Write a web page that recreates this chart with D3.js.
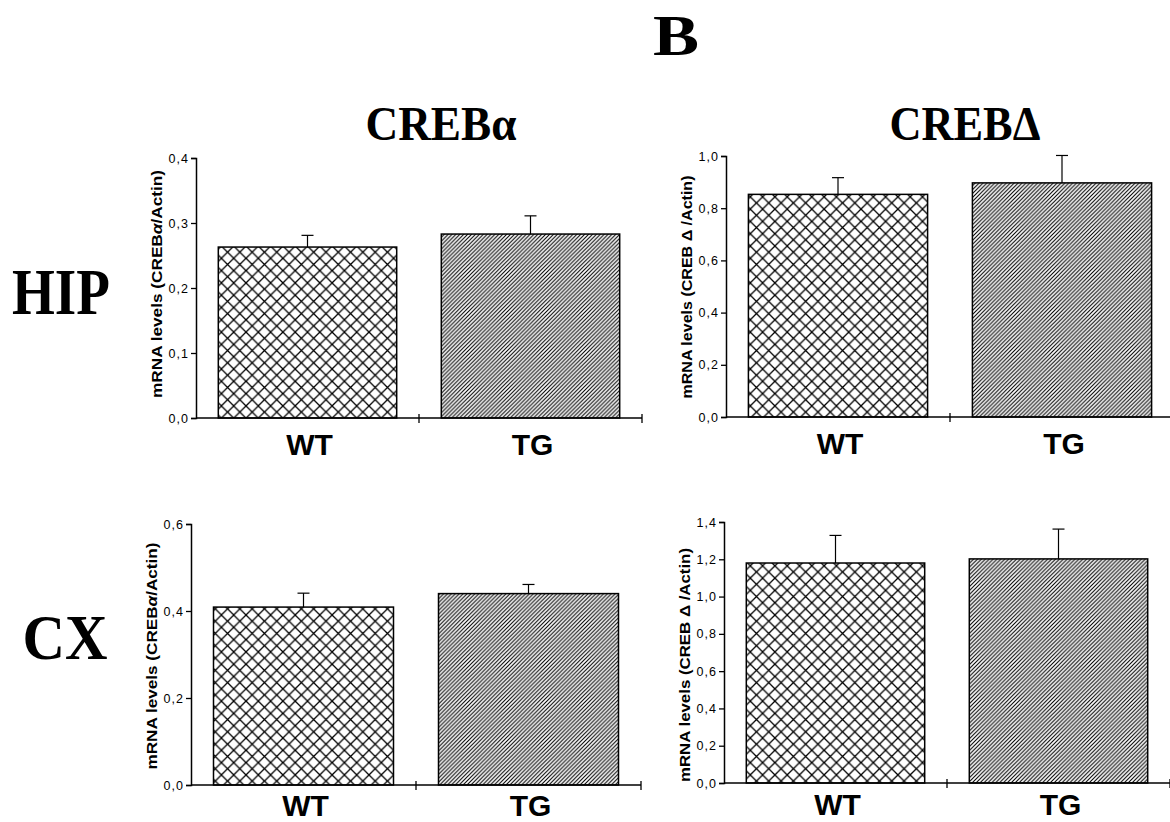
<!DOCTYPE html>
<html>
<head>
<meta charset="utf-8">
<script src="https://cdn.jsdelivr.net/npm/d3@7"></script>
<style>
  body { margin: 0; background: #fff; }
  text { fill: #000; }
</style>
</head>
<body>
<div id="chart"></div>
<script>

// data (means and upper SEM)
var groups = ["WT", "TG"]

var hipAlphaMean = [0.263, 0.283]
var hipAlphaErr = [0.018, 0.028]
var hipAlphaTicks = [0, 0.1, 0.2, 0.3, 0.4]

var hipDeltaMean = [0.853, 0.897]
var hipDeltaErr = [0.064, 0.105]
var hipDeltaTicks = [0, 0.2, 0.4, 0.6, 0.8, 1.0]

var cxAlphaMean = [0.409, 0.440]
var cxAlphaErr = [0.032, 0.021]
var cxAlphaTicks = [0, 0.2, 0.4, 0.6]

var cxDeltaMean = [1.18, 1.202]
var cxDeltaErr = [0.148, 0.16]
var cxDeltaTicks = [0, 0.2, 0.4, 0.6, 0.8, 1.0, 1.2, 1.4]

var width = 1170
var height = 822

var svg = d3.select("#chart")
  .append("svg")
    .attr("width", width)
    .attr("height", height)

// hatch patterns
var defs = svg.append("defs")

defs.append("pattern")
    .attr("id", "cross")
    .attr("patternUnits", "userSpaceOnUse")
    .attr("width", 12.3)
    .attr("height", 12.3)
  .append("path")
    .attr("d", "M0,0 L12.3,12.3 M12.3,0 L0,12.3 M-1,1 L1,-1 M11.3,13.3 L13.3,11.3")
    .attr("stroke", "#000")
    .attr("stroke-width", 1.3)

defs.append("pattern")
    .attr("id", "diag")
    .attr("patternUnits", "userSpaceOnUse")
    .attr("width", 3.9)
    .attr("height", 3.9)
  .append("path")
    .attr("d", "M-1,1 L1,-1 M0,3.9 L3.9,0 M2.9,4.9 L4.9,2.9")
    .attr("stroke", "#000")
    .attr("stroke-width", 1.1)

var fills = ["url(#cross)", "url(#diag)"]

// comma decimals like the original
var fmt = function(d) { return d3.format(".1f")(d).replace(".", ",") }

// one panel per call
function drawPanel(p) {
  var x = d3.scaleBand()
    .domain(groups)
    .range([p.x0, p.x1])
    .paddingInner(0.2)
    .paddingOuter(0.1)

  var y = d3.scaleLinear()
    .domain([0, d3.max(p.ticks)])
    .range([p.y0, p.y1])

  var g = svg.append("g")

  // y axis
  var yAxis = g.append("g")
    .attr("transform", "translate(" + p.x0 + ",0)")
    .call(d3.axisLeft(y).tickValues(p.ticks).tickFormat(fmt).tickSize(5).tickPadding(2))
  yAxis.select(".domain").attr("stroke-width", 1.5)
  yAxis.selectAll(".tick line").attr("stroke-width", 1.3)
  yAxis.selectAll(".tick text")
    .style("font-family", "Liberation Sans, Arial, sans-serif")
    .style("font-size", "12.5px")
    .style("letter-spacing", "1px")

  // x axis: baseline with ticks at group boundaries
  var step = x.step()
  g.append("line")
    .attr("x1", p.x0).attr("x2", p.x1)
    .attr("y1", p.y0).attr("y2", p.y0)
    .attr("stroke", "#000")
    .attr("stroke-width", 1.5)

  var edges = groups.map(function(d) { return x(d) + x.bandwidth() + step * 0.1 })
  g.selectAll(".xtick")
    .data(edges)
    .enter()
    .append("line")
      .attr("class", "xtick")
      .attr("x1", function(d) { return d }).attr("x2", function(d) { return d })
      .attr("y1", p.y0 - 4).attr("y2", p.y0 + 5)
      .attr("stroke", "#000")
      .attr("stroke-width", 1.3)

  // bars
  g.selectAll(".bar")
    .data(groups)
    .enter()
    .append("rect")
      .attr("class", "bar")
      .attr("x", function(d) { return x(d) })
      .attr("y", function(d, i) { return y(p.mean[i]) })
      .attr("width", x.bandwidth())
      .attr("height", function(d, i) { return p.y0 - y(p.mean[i]) })
      .attr("fill", function(d, i) { return fills[i] })
      .attr("stroke", "#000")
      .attr("stroke-width", 1.5)

  // upper error bars
  var eb = g.selectAll(".err")
    .data(groups)
    .enter()
    .append("g")
      .attr("class", "err")
  eb.append("line")
    .attr("x1", function(d) { return x(d) + x.bandwidth() / 2 })
    .attr("x2", function(d) { return x(d) + x.bandwidth() / 2 })
    .attr("y1", function(d, i) { return y(p.mean[i]) })
    .attr("y2", function(d, i) { return y(p.mean[i] + p.err[i]) })
    .attr("stroke", "#000")
    .attr("stroke-width", 1.2)
  eb.append("line")
    .attr("x1", function(d) { return x(d) + x.bandwidth() / 2 - 6 })
    .attr("x2", function(d) { return x(d) + x.bandwidth() / 2 + 6 })
    .attr("y1", function(d, i) { return y(p.mean[i] + p.err[i]) })
    .attr("y2", function(d, i) { return y(p.mean[i] + p.err[i]) })
    .attr("stroke", "#000")
    .attr("stroke-width", 1.2)

  // group labels
  g.selectAll(".xlab")
    .data(groups)
    .enter()
    .append("text")
      .attr("class", "xlab")
      .attr("x", function(d) { return x(d) + x.bandwidth() / 2 + 2 })
      .attr("y", p.y0 + p.labelGap)
      .attr("text-anchor", "middle")
      .style("font-family", "Liberation Sans, Arial, sans-serif")
      .style("font-weight", "bold")
      .style("font-size", "30px")
      .text(function(d) { return d })

  // y label
  var lab = g.append("text")
    .attr("transform", "translate(" + (p.x0 - 34) + "," + p.labelY + ") rotate(-90)")
    .attr("text-anchor", "middle")
    .attr("textLength", p.labelLen)
    .attr("lengthAdjust", "spacingAndGlyphs")
    .style("font-family", "Liberation Sans, Arial, sans-serif")
    .style("font-weight", "bold")
    .style("font-size", "15px")
  lab.append("tspan").text("mRNA levels (CREB")
  if (p.alpha) {
    lab.append("tspan").style("font-style", "italic").text("\u03b1")
    lab.append("tspan").text("/Actin)")
  } else {
    lab.append("tspan").text(" \u0394 /Actin)")
  }
}

drawPanel({ mean: hipAlphaMean, err: hipAlphaErr, ticks: hipAlphaTicks, alpha: true,
  x0: 196, x1: 642, y0: 418, y1: 158, labelY: 284, labelLen: 228, labelGap: 37 })
drawPanel({ mean: hipDeltaMean, err: hipDeltaErr, ticks: hipDeltaTicks, alpha: false,
  x0: 726, x1: 1174, y0: 417, y1: 156, labelY: 287, labelLen: 223, labelGap: 37 })
drawPanel({ mean: cxAlphaMean, err: cxAlphaErr, ticks: cxAlphaTicks, alpha: true,
  x0: 191, x1: 641, y0: 785, y1: 524, labelY: 656, labelLen: 227, labelGap: 31 })
drawPanel({ mean: cxDeltaMean, err: cxDeltaErr, ticks: cxDeltaTicks, alpha: false,
  x0: 724, x1: 1170, y0: 783, y1: 522, labelY: 665, labelLen: 234, labelGap: 32 })

// headings
var serif = "Liberation Serif, Times New Roman, serif"
function heading(txt, cx, by, size, len) {
  svg.append("text")
    .attr("x", cx)
    .attr("y", by)
    .attr("text-anchor", "middle")
    .attr("textLength", len)
    .attr("lengthAdjust", "spacingAndGlyphs")
    .style("font-family", serif)
    .style("font-weight", "bold")
    .style("font-size", size + "px")
    .text(txt)
}
heading("B", 676, 55, 56, 46)
heading("CREB\u03b1", 441, 140, 48, 151)
heading("CREB\u0394", 965, 140, 48, 151)
heading("HIP", 61, 314, 66, 98)
heading("CX", 65, 659, 64, 85)

</script>
</body>
</html>
